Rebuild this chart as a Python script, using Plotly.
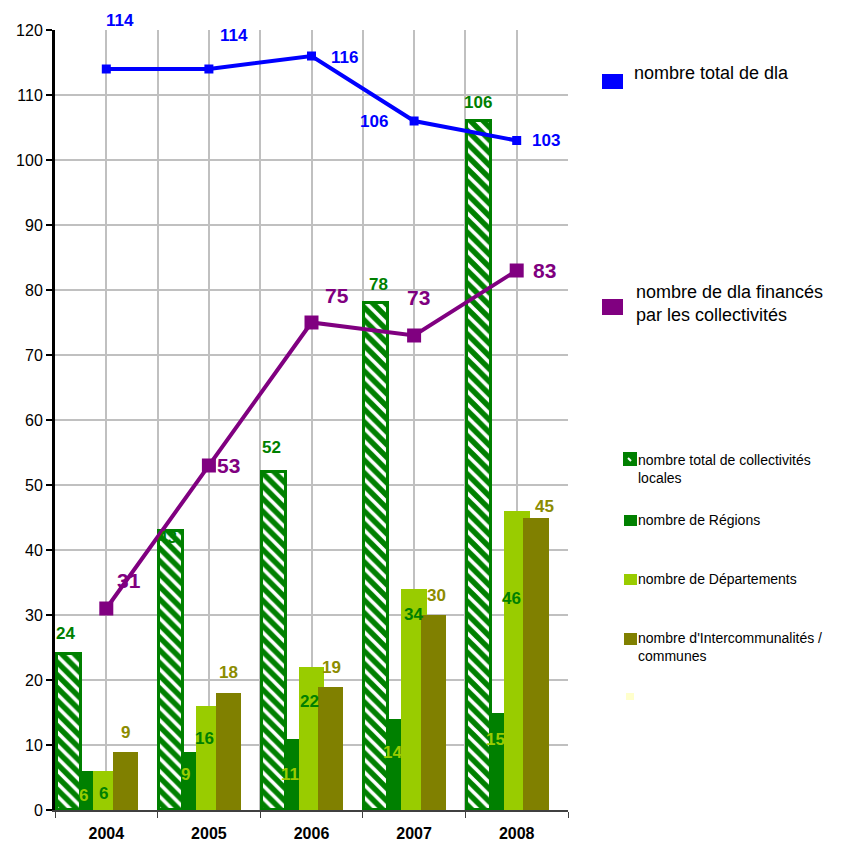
import plotly.graph_objects as go

years = ["2004", "2005", "2006", "2007", "2008"]
total_dla = [114, 114, 116, 106, 103]
dla_finances = [31, 53, 75, 73, 83]
total_collectivites = [24, 43, 52, 78, 106]
regions = [6, 9, 11, 14, 15]
departements = [6, 16, 22, 34, 46]
intercommunalites = [9, 18, 19, 30, 45]

legend_labels = [
    "nombre total de dla",
    "nombre de dla financés<br>par les collectivités",
    "nombre total de collectivités<br>locales",
    "nombre de Régions",
    "nombre de Départements",
    "nombre d'Intercommunalités /<br>communes",
]

BLUE = "#0000FF"
PURPLE = "#800080"
GREEN = "#008000"
LGREEN = "#99CC00"
OLIVE = "#808000"
OLIVE_TXT = "#8C8C00"

idx = list(range(len(years)))
FONT = "Liberation Sans, Arial, sans-serif"

fig = go.Figure()

# bars (overlay with manual offsets)
fig.add_trace(go.Bar(
    x=idx, y=total_collectivites, offset=-0.485, width=0.235,
    marker=dict(color=GREEN, line=dict(color=GREEN, width=3),
                pattern=dict(shape="\\", fgcolor="white", bgcolor=GREEN,
                             size=9, solidity=0.4, fillmode="replace")),
    showlegend=False))
fig.add_trace(go.Bar(
    x=idx, y=regions, offset=-0.255, width=0.25,
    marker=dict(color=GREEN, line=dict(width=0)), showlegend=False))
fig.add_trace(go.Bar(
    x=idx, y=departements, offset=-0.125, width=0.25,
    marker=dict(color=LGREEN, line=dict(width=0)), showlegend=False))
fig.add_trace(go.Bar(
    x=idx, y=intercommunalites, offset=0.065, width=0.245,
    marker=dict(color=OLIVE, line=dict(width=0)), showlegend=False))

# lines
fig.add_trace(go.Scatter(
    x=idx, y=total_dla, mode="lines+markers",
    line=dict(color=BLUE, width=4),
    marker=dict(symbol="square", size=9, color=BLUE), showlegend=False))
fig.add_trace(go.Scatter(
    x=idx, y=dla_finances, mode="lines+markers",
    line=dict(color=PURPLE, width=4),
    marker=dict(symbol="square", size=14, color=PURPLE), showlegend=False))

annotations = []

def add_labels(values, shifts, color, size):
    for i, (v, (xs, ys)) in enumerate(zip(values, shifts)):
        annotations.append(dict(
            x=i, y=v, xref="x", yref="y", text=f"<b>{v}</b>", showarrow=False,
            xshift=xs, yshift=ys, font=dict(family=FONT, size=size, color=color)))

add_labels(total_dla, [(14, 49), (25, 34), (33, -1), (-40, 0), (29, 0)], BLUE, 17)
add_labels(dla_finances, [(23, 28), (20, 0), (25, 27), (4, 38), (28, 0)], PURPLE, 21)
add_labels(total_collectivites, [(-41, 21), (-41, -7), (-40, 25), (-36, 19), (-39, 19)], GREEN, 17)
add_labels(regions, [(-23, -24), (-23, -23), (-22, -36), (-22, -33), (-21, -27)], LGREEN, 17)
add_labels(departements, [(-3, -22), (-4, -32), (-2, -34), (-1, -25), (-5, -87)], GREEN, 17)
add_labels(intercommunalites, [(19, 19), (20, 21), (20, 19), (22, 20), (28, 11)], OLIVE_TXT, 17)

# manual legend (screen pixel -> paper)
L, R, T, B = 55, 568, 30, 810
def px(x):
    return (x - L) / (R - L)
def py(y):
    return (B - y) / (B - T)

shapes = []
def leg_box(x0, y0, x1, y1, fill, line=None):
    shapes.append(dict(type="rect", xref="paper", yref="paper",
                       x0=px(x0), x1=px(x1), y0=py(y1), y1=py(y0),
                       fillcolor=fill, line=dict(width=2 if line else 0, color=line or fill)))

def leg_text(x, y, text, size):
    annotations.append(dict(x=px(x), y=py(y), xref="paper", yref="paper", text=text,
                            showarrow=False, xanchor="left", yanchor="top", align="left",
                            font=dict(family=FONT, size=size, color="black")))

leg_box(602, 74, 623, 89, BLUE)
leg_text(632, 61, legend_labels[0], 18)
leg_box(602, 299, 623, 315, PURPLE)
leg_text(634, 280, legend_labels[1], 18)

leg_box(624, 453, 636, 465, GREEN, GREEN)
shapes.append(dict(type="line", xref="paper", yref="paper", x0=px(628), x1=px(631),
                   y0=py(458), y1=py(461), line=dict(color="white", width=2)))
leg_text(636, 450, legend_labels[2], 14)
leg_box(624, 515, 637, 526, GREEN)
leg_text(636, 510, legend_labels[3], 14)
leg_box(624, 574, 637, 585, LGREEN)
leg_text(636, 569, legend_labels[4], 14)
leg_box(624, 633, 637, 645, OLIVE)
leg_text(636, 628, legend_labels[5], 14)
leg_box(626, 693, 634, 700, "#FFFFCC")

# page body has an 8px margin: compensate so the plot lands where the reference has it
OFF = 8
fig.update_layout(
    width=862 - OFF, height=843 - OFF,
    margin=dict(l=L - OFF, r=862 - R, t=T - OFF, b=843 - B, autoexpand=False),
    plot_bgcolor="white", paper_bgcolor="white",
    barmode="overlay", bargap=0,
    annotations=annotations, shapes=shapes,
    font=dict(family=FONT, size=15, color="black"),
)
fig.update_xaxes(
    range=[-0.5, 4.5], tickvals=idx, ticktext=[f"<b>{y}</b>" for y in years],
    ticks="", showgrid=True, gridcolor="#C0C0C0", gridwidth=2,
    showline=True, linecolor="#404040", linewidth=2, automargin=False,
    tickfont=dict(family=FONT, size=16, color="black"), ticklabelstandoff=8,
    minor=dict(tickvals=[i - 0.5 for i in range(len(years) + 1)],
               showgrid=True, gridcolor="#C0C0C0", gridwidth=2,
               ticks="outside", ticklen=6, tickcolor="#404040", tickwidth=1),
    zeroline=False,
)
fig.update_yaxes(
    range=[0, 120], dtick=10, showgrid=True, gridcolor="#C0C0C0", gridwidth=2,
    showline=True, linecolor="black", linewidth=3, ticks="outside", ticklen=6,
    tickcolor="black", tickwidth=2, zeroline=False, automargin=False,
    tickfont=dict(family=FONT, size=16, color="black"),
)

fig.write_html("out.html")
